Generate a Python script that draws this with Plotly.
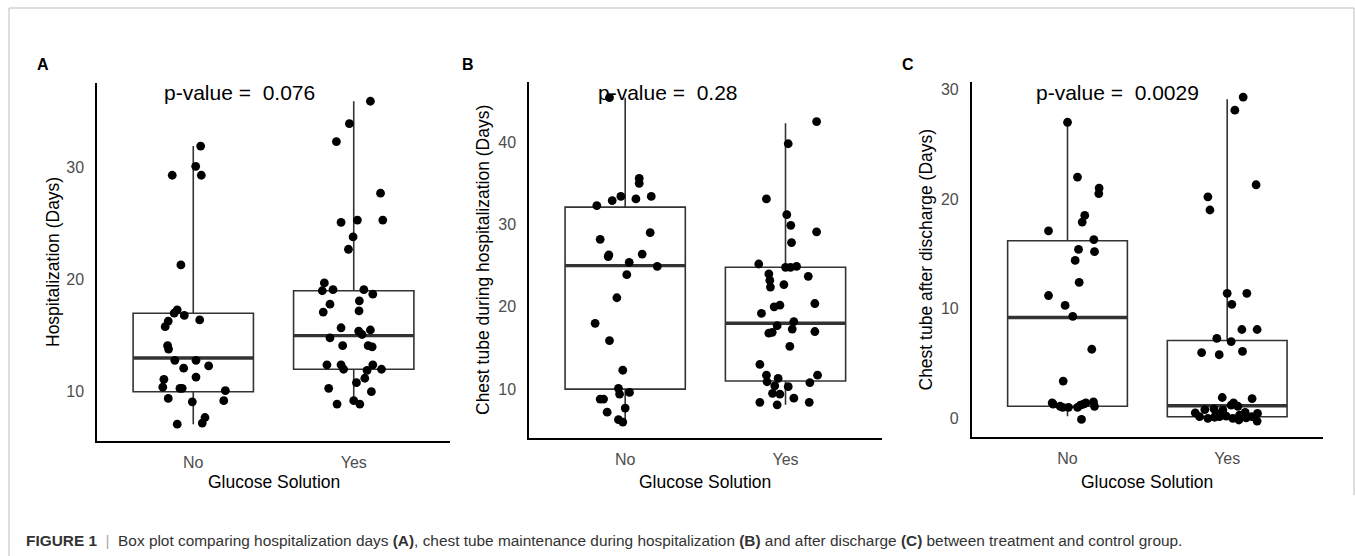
import plotly.graph_objects as go

W, H = 1355, 556

# ---------------- data ----------------
groups = ["No", "Yes"]

# Panel A: Hospitalization (Days)
a_no = [31.9, 29.3, 30.1, 29.3, 21.3, 17.3, 17.0, 16.8, 16.4, 16.3, 15.8, 14.1, 13.8, 12.8, 12.8,
        12.1, 12.3, 11.3, 11.1, 10.4, 10.3, 10.3, 10.1, 9.4, 9.1, 9.2, 7.1, 7.7, 7.2]
a_no_jit = [0.046, -0.131, 0.015, 0.05, -0.077, -0.1, -0.119, -0.056, 0.04, -0.156, -0.175, -0.16, -0.154,
            -0.115, 0.017, -0.06, 0.096, 0.017, -0.183, -0.19, -0.083, -0.069, 0.2, -0.156, -0.006, 0.19,
            -0.1, 0.073, 0.056]
a_yes = [35.9, 33.9, 32.3, 27.7, 25.1, 25.3, 25.3, 23.8, 22.7, 19.7, 19.0, 19.1, 19.1, 18.7, 17.8, 18.1,
         17.1, 17.2, 15.7, 14.8, 15.4, 15.5, 15.1, 14.1, 14.1, 14.0, 12.4, 12.4, 12.0, 12.4, 12.0, 11.9,
         11.2, 10.8, 10.3, 10.0, 8.9, 9.2, 8.9]
a_yes_jit = [0.104, -0.027, -0.108, 0.167, -0.079, 0.023, 0.181, -0.004, -0.033, -0.183, -0.196, -0.129,
             0.063, 0.119, -0.148, 0.035, -0.19, 0.033, -0.079, -0.148, 0.031, 0.104, 0.052, -0.069, 0.09,
             0.115, -0.167, -0.079, -0.063, 0.119, 0.173, 0.083, 0.069, 0.017, -0.156, 0.11, -0.104, 0.0,
             0.038]
a_q1 = [10.0, 12.0]
a_med = [13.0, 15.0]
a_q3 = [17.0, 19.0]
a_lo = [7.1, 8.9]
a_hi = [31.9, 35.9]
a_ticks = [10, 20, 30]

# Panel B: Chest tube during hospitalization (Days)
b_no = [45.4, 35.6, 35.0, 33.4, 32.9, 33.1, 33.4, 32.3, 29.0, 28.2, 26.3, 26.1, 26.4, 25.4, 24.9, 23.9,
        21.1, 18.0, 15.9, 12.3, 10.1, 9.4, 9.6, 8.8, 8.8, 7.7, 7.2, 6.3, 6.0]
b_no_jit = [-0.098, 0.0875, 0.0875, -0.027, -0.081, 0.067, 0.1625, -0.177, 0.156, -0.156, -0.102, -0.106,
            0.106, 0.025, 0.2, 0.01, -0.052, -0.1875, -0.098, -0.015, -0.042, -0.035, 0.027, -0.156,
            -0.135, 0.0, -0.1125, -0.042, -0.015]
b_yes = [42.5, 39.8, 33.1, 31.2, 29.9, 29.1, 27.8, 25.2, 24.8, 24.8, 24.9, 24.0, 23.2, 22.7, 22.4, 23.7,
         20.2, 20.0, 20.4, 19.2, 18.2, 17.7, 17.3, 16.8, 16.9, 17.0, 15.2, 13.0, 11.7, 11.3, 11.7, 10.9,
         10.8, 10.4, 10.3, 9.5, 9.4, 8.4, 8.9, 8.1, 8.4]
b_yes_jit = [0.194, 0.017, -0.119, 0.008, 0.033, 0.194, 0.0375, -0.167, 0.0, 0.031, 0.069, -0.104, -0.098,
             -0.01, -0.094, 0.142, -0.035, -0.071, 0.183, -0.15, 0.052, -0.052, 0.042, -0.104, -0.083,
             0.183, 0.027, -0.16, -0.119, -0.046, 0.2, -0.115, 0.152, -0.067, 0.017, -0.081, -0.035,
             -0.16, 0.052, -0.052, 0.148]
b_q1 = [10.0, 11.0]
b_med = [25.0, 18.0]
b_q3 = [32.1, 24.8]
b_lo = [6.0, 8.1]
b_hi = [45.4, 42.3]
b_ticks = [10, 20, 30, 40]

# Panel C: Chest tube after discharge (Days)
c_no = [27.0, 22.0, 21.0, 20.5, 18.5, 17.9, 17.1, 16.3, 15.4, 15.2, 14.4, 12.4, 11.2, 10.3, 9.3, 6.3,
        3.4, 1.4, 1.1, 1.0, 1.0, 1.2, 1.4, 1.5, 1.1, -0.1, 1.3, 1.3, 1.0]
c_no_jit = [0.0, 0.0625, 0.198, 0.196, 0.108, 0.092, -0.119, 0.165, 0.069, 0.169, 0.048, 0.073, -0.119,
            -0.015, 0.033, 0.152, -0.027, -0.096, -0.046, 0.006, 0.0625, 0.081, 0.115, 0.1625, 0.169,
            0.0875, -0.09, 0.1, -0.03]
c_yes = [29.3, 28.1, 21.3, 20.2, 19.0, 11.4, 11.4, 10.4, 8.1, 8.1, 7.3, 7.0, 6.0, 5.8, 6.1, 1.9, 1.8,
         1.4, 1.2, 1.1, 0.85, 0.8, 0.5, 0.75, 0.55, 0.45, 0.15, 0.0, 0.1, 0.15, 0.2, 0.0, -0.15, 0.05,
         -0.25, 0.15, 0.45, 0.3]
c_yes_jit = [0.1, 0.048, 0.181, -0.121, -0.108, 0.0, 0.123, 0.029, 0.092, 0.1875, -0.065, 0.025, -0.16,
             -0.05, 0.096, -0.031, 0.156, 0.04, 0.025, 0.067, -0.083, -0.14, -0.2, -0.027, 0.1125, 0.19,
             -0.173, -0.121, -0.079, -0.048, -0.006, 0.035, 0.073, 0.119, 0.1875, 0.154, -0.069, 0.077]
c_q1 = [1.1, 0.15]
c_med = [9.2, 1.15]
c_q3 = [16.2, 7.1]
c_lo = [0.2, 0.0]
c_hi = [27.0, 29.1]
c_ticks = [0, 10, 20, 30]

y_titles = ["Hospitalization (Days)", "Chest tube during hospitalization (Days)",
            "Chest tube after discharge (Days)"]
p_values = ["p-value =  0.076", "p-value =  0.28", "p-value =  0.0029"]
panel_labels = ["A", "B", "C"]
x_title = "Glucose Solution"

# ---------------- layout geometry (pixels) ----------------
panels = [
    dict(x0=97, x1=450, y0=83.3, y1=440.7, yr=[5.63, 37.5], ptx=0.29, pty_px=93, lab=(43, 65), yt_x=53,
         no=a_no, nj=a_no_jit, yes=a_yes, yj=a_yes_jit, q1=a_q1, med=a_med, q3=a_q3, lo=a_lo, hi=a_hi,
         ticks=a_ticks),
    dict(x0=529, x1=881.7, y0=82, y1=438, yr=[4.07, 47.3], ptx=0.27, pty_px=93, lab=(468, 65), yt_x=483,
         no=b_no, nj=b_no_jit, yes=b_yes, yj=b_yes_jit, q1=b_q1, med=b_med, q3=b_q3, lo=b_lo, hi=b_hi,
         ticks=b_ticks),
    dict(x0=971.7, x1=1323, y0=81.7, y1=437.3, yr=[-1.73, 30.7], ptx=0.31, pty_px=93, lab=(908, 65),
         yt_x=925, no=c_no, nj=c_no_jit, yes=c_yes, yj=c_yes_jit, q1=c_q1, med=c_med, q3=c_q3, lo=c_lo,
         hi=c_hi, ticks=c_ticks),
]

FONT = "Liberation Sans, Arial, sans-serif"
BOXW = 0.75

fig = go.Figure()
annotations = []
for i, p in enumerate(panels):
    xa = "x" if i == 0 else f"x{i+1}"
    ya = "y" if i == 0 else f"y{i+1}"
    # boxes
    for g in range(2):
        fig.add_trace(go.Box(
            x=[g], q1=[p["q1"][g]], median=[p["med"][g]], q3=[p["q3"][g]],
            lowerfence=[p["lo"][g]], upperfence=[p["hi"][g]],
            width=BOXW, whiskerwidth=0, fillcolor="white",
            line=dict(color="#333333", width=1.6), boxpoints=False,
            xaxis=xa, yaxis=ya, showlegend=False, hoverinfo="skip"))
        # thick median
        fig.add_trace(go.Scatter(
            x=[g - BOXW / 2, g + BOXW / 2], y=[p["med"][g], p["med"][g]], mode="lines",
            line=dict(color="#333333", width=3.4), xaxis=xa, yaxis=ya, showlegend=False,
            hoverinfo="skip"))
    # jittered points
    xs = [0 + j for j in p["nj"]] + [1 + j for j in p["yj"]]
    ys = list(p["no"]) + list(p["yes"])
    fig.add_trace(go.Scatter(x=xs, y=ys, mode="markers",
                             marker=dict(color="black", size=8.8, line=dict(width=0)),
                             xaxis=xa, yaxis=ya, showlegend=False, hoverinfo="skip"))

    dom_x = [p["x0"] / W, p["x1"] / W]
    dom_y = [1 - p["y1"] / H, 1 - p["y0"] / H]
    axx = dict(domain=dom_x, range=[-0.6, 1.6], tickvals=[0, 1], ticktext=groups, showgrid=False,
               zeroline=False, showline=True, linecolor="black", linewidth=1.5, ticks="",
               tickfont=dict(family=FONT, size=16, color="#4d4d4d"), ticklabelstandoff=6,
               anchor=ya, fixedrange=True)
    axy = dict(domain=dom_y, range=p["yr"], tickvals=p["ticks"], showgrid=False, zeroline=False,
               showline=True, linecolor="black", linewidth=1.5, ticks="",
               tickfont=dict(family=FONT, size=16, color="#4d4d4d"), ticklabelstandoff=8,
               anchor=xa, fixedrange=True)
    key_x = "xaxis" if i == 0 else f"xaxis{i+1}"
    key_y = "yaxis" if i == 0 else f"yaxis{i+1}"
    fig.update_layout({key_x: axx, key_y: axy})

    # p-value label
    annotations.append(dict(x=p["ptx"], y=1 - p["pty_px"] / H, xref=xa, yref="paper",
                            text=p_values[i], showarrow=False, xanchor="center", yanchor="middle",
                            font=dict(family=FONT, size=21, color="black")))
    # panel letter
    annotations.append(dict(x=p["lab"][0] / W, y=1 - p["lab"][1] / H, xref="paper", yref="paper",
                            text=f"<b>{panel_labels[i]}</b>", showarrow=False, xanchor="center",
                            yanchor="middle", font=dict(family=FONT, size=16, color="black")))
    # y title
    annotations.append(dict(x=p["yt_x"] / W, y=1 - ((p["y0"] + p["y1"]) / 2) / H, xref="paper",
                            yref="paper", text=y_titles[i], textangle=-90, showarrow=False,
                            xanchor="center", yanchor="middle",
                            font=dict(family=FONT, size=17.5, color="black")))
    # x title
    annotations.append(dict(x=(p["x0"] + p["x1"]) / 2 / W, y=1 - 482 / H, xref="paper", yref="paper",
                            text=x_title, showarrow=False, xanchor="center", yanchor="middle",
                            font=dict(family=FONT, size=17.5, color="black")))

# caption
caption = ("<b>FIGURE 1</b>  <span style='color:#aaaaaa'>|</span>  Box plot comparing hospitalization days "
           "<b>(A)</b>, chest tube maintenance during hospitalization <b>(B)</b> and after discharge "
           "<b>(C)</b> between treatment and control group.")
annotations.append(dict(x=24 / W, y=1 - 540 / H, xref="paper", yref="paper", text=caption,
                        showarrow=False, xanchor="left", yanchor="middle",
                        font=dict(family="Liberation Sans Narrow, Liberation Sans, Arial", size=15.4,
                                  color="#333333")))

shapes = [
    dict(type="line", xref="paper", yref="paper", x0=9 / W, x1=9 / W, y0=1 - 8 / H, y1=0,
         line=dict(color="#bbbbbb", width=1)),
    dict(type="line", xref="paper", yref="paper", x0=9 / W, x1=1354 / W, y0=1 - 8 / H, y1=1 - 8 / H,
         line=dict(color="#bbbbbb", width=1)),
    dict(type="line", xref="paper", yref="paper", x0=1354 / W, x1=1354 / W, y0=1 - 8 / H,
         y1=1 - 495 / H, line=dict(color="#bbbbbb", width=1)),
]

fig.update_layout(width=W, height=H, margin=dict(l=0, r=0, t=0, b=0), paper_bgcolor="white",
                  plot_bgcolor="white", annotations=annotations, shapes=shapes, showlegend=False,
                  font=dict(family=FONT))
fig.write_html("out.html", config={"displayModeBar": False},
               post_script="document.body.style.margin='0px';document.body.style.overflow='hidden';")
